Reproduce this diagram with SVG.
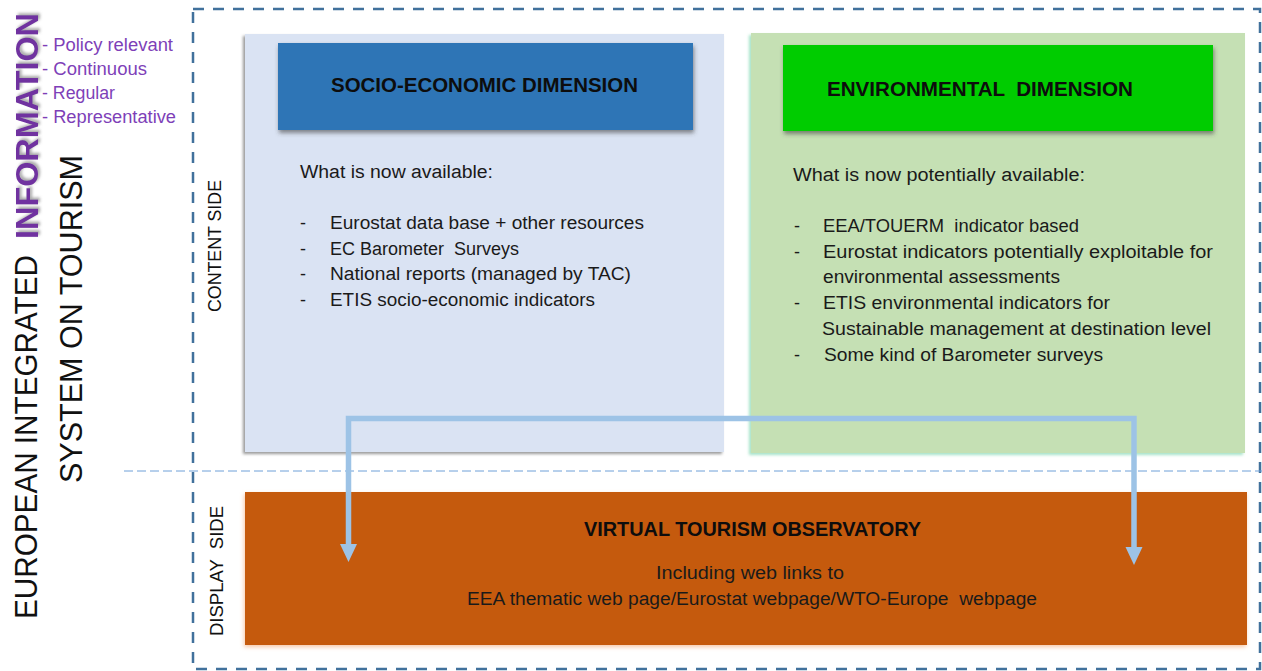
<svg xmlns="http://www.w3.org/2000/svg" width="1262" height="671" viewBox="0 0 1262 671">
  <style>
    text { font-family: "Liberation Sans", Arial, sans-serif; }
    .body { font-size: 18px; fill: #1a1a1a; }
    .head { font-size: 21px; font-weight: bold; fill: #0d0d0d; }
    .side { font-size: 19px; fill: #111; }
    .title { font-size: 32px; fill: #111; }
    .info { font-size: 32px; font-weight: bold; fill: #7030a0; }
    .purple { font-size: 17.5px; fill: #7e3fb8; }
    .pre { white-space: pre; }
  </style>
  <defs>
    <filter id="shPanel" x="-5%" y="-5%" width="110%" height="110%">
      <feDropShadow dx="-2" dy="2" stdDeviation="1.5" flood-color="#7f7f7f" flood-opacity="0.8"/>
    </filter>
    <filter id="shGreen" x="-5%" y="-5%" width="110%" height="110%">
      <feDropShadow dx="-2" dy="2" stdDeviation="1.5" flood-color="#8fdcbc" flood-opacity="0.8"/>
    </filter>
    <filter id="shHead" x="-5%" y="-10%" width="110%" height="125%">
      <feDropShadow dx="1" dy="3" stdDeviation="2" flood-color="#404040" flood-opacity="0.6"/>
    </filter>
    <filter id="shOrange" x="-5%" y="-10%" width="110%" height="125%">
      <feDropShadow dx="-1" dy="2" stdDeviation="2" flood-color="#f4b183" flood-opacity="0.7"/>
    </filter>
    <filter id="shText" x="-10%" y="-20%" width="120%" height="140%">
      <feDropShadow dx="2" dy="2" stdDeviation="1.5" flood-color="#808080" flood-opacity="0.7"/>
    </filter>
    <marker id="arrow" markerUnits="userSpaceOnUse" markerWidth="18" markerHeight="18" refX="2" refY="9" orient="auto-start-reverse" viewBox="0 0 18 18">
      <path d="M0,0.5 L18,9 L0,17.5 Z" fill="#9dc3e6"/>
    </marker>
  </defs>

  <rect width="1262" height="671" fill="#ffffff"/>

  <!-- frame -->
  <g id="frame">
    <rect x="193" y="9" width="1067" height="660" fill="none" stroke="#41719c" stroke-width="2.5" stroke-dasharray="11 9"/>
    <line x1="124" y1="471" x2="1262" y2="471" stroke="#6fa0d8" stroke-width="1" stroke-dasharray="9 4"/>
  </g>

  <!-- title -->
  <g id="title">
    <text class="title" transform="translate(37,619) rotate(-90)" textLength="364" lengthAdjust="spacingAndGlyphs">EUROPEAN INTEGRATED</text>
    <text class="info" filter="url(#shText)" transform="translate(38,239) rotate(-90)" textLength="226" lengthAdjust="spacingAndGlyphs">INFORMATION</text>
    <text class="title" transform="translate(82,483) rotate(-90)" textLength="328" lengthAdjust="spacingAndGlyphs">SYSTEM ON TOURISM</text>
  </g>

  <g id="properties">
    <text class="purple" x="42" y="51" textLength="131" lengthAdjust="spacingAndGlyphs">- Policy relevant</text>
    <text class="purple" x="42" y="75" textLength="105" lengthAdjust="spacingAndGlyphs">- Continuous</text>
    <text class="purple" x="42" y="99" textLength="73" lengthAdjust="spacingAndGlyphs">- Regular</text>
    <text class="purple" x="42" y="123" textLength="134" lengthAdjust="spacingAndGlyphs">- Representative</text>
  </g>

  <g id="side-labels">
    <text class="side" transform="translate(221,312) rotate(-90)" textLength="132" lengthAdjust="spacingAndGlyphs">CONTENT SIDE</text>
    <text class="side pre" transform="translate(223,636) rotate(-90)" textLength="130" lengthAdjust="spacingAndGlyphs">DISPLAY  SIDE</text>
  </g>

  <!-- socio-economic -->
  <g id="socio-economic">
    <rect x="245" y="34" width="479" height="418" fill="#dae3f3" filter="url(#shPanel)"/>
    <rect x="278" y="43" width="415" height="87" fill="#2e75b6" filter="url(#shHead)"/>
    <text class="head" x="331" y="92" textLength="307" lengthAdjust="spacingAndGlyphs">SOCIO-ECONOMIC DIMENSION</text>
    <text class="body" x="300" y="178" textLength="193" lengthAdjust="spacingAndGlyphs">What is now available:</text>
    <text class="body" x="300" y="229">-</text>
    <text class="body" x="330" y="229" textLength="314" lengthAdjust="spacingAndGlyphs">Eurostat data base + other resources</text>
    <text class="body" x="300" y="255">-</text>
    <text class="body pre" x="330" y="255" textLength="189" lengthAdjust="spacingAndGlyphs">EC Barometer  Surveys</text>
    <text class="body" x="300" y="280">-</text>
    <text class="body" x="330" y="280" textLength="301" lengthAdjust="spacingAndGlyphs">National reports (managed by TAC)</text>
    <text class="body" x="300" y="306">-</text>
    <text class="body" x="330" y="306" textLength="265" lengthAdjust="spacingAndGlyphs">ETIS socio-economic indicators</text>
  </g>

  <!-- environmental -->
  <g id="environmental">
    <rect x="751" y="33" width="494" height="420" fill="#c5e0b4" filter="url(#shGreen)"/>
    <rect x="783" y="45" width="430" height="86" fill="#00cc00" filter="url(#shHead)"/>
    <text class="head pre" x="827" y="96" textLength="306" lengthAdjust="spacingAndGlyphs">ENVIRONMENTAL  DIMENSION</text>
    <text class="body" x="793" y="181" textLength="292" lengthAdjust="spacingAndGlyphs">What is now potentially available:</text>
    <text class="body" x="794" y="232">-</text>
    <text class="body pre" x="823" y="232" textLength="256" lengthAdjust="spacingAndGlyphs">EEA/TOUERM  indicator based</text>
    <text class="body" x="794" y="258">-</text>
    <text class="body" x="823" y="258" textLength="390" lengthAdjust="spacingAndGlyphs">Eurostat indicators potentially exploitable for</text>
    <text class="body" x="823" y="283" textLength="237" lengthAdjust="spacingAndGlyphs">environmental assessments</text>
    <text class="body" x="794" y="309">-</text>
    <text class="body" x="823" y="309" textLength="287" lengthAdjust="spacingAndGlyphs">ETIS environmental indicators for</text>
    <text class="body" x="822" y="335" textLength="389" lengthAdjust="spacingAndGlyphs">Sustainable management at destination level</text>
    <text class="body" x="794" y="361">-</text>
    <text class="body" x="824" y="361" textLength="279" lengthAdjust="spacingAndGlyphs">Some kind of Barometer surveys</text>
  </g>

  <!-- observatory -->
  <g id="observatory">
    <rect x="245" y="492" width="1002" height="153" fill="#c55a11" filter="url(#shOrange)"/>
    <text class="head" x="584" y="536" textLength="337" lengthAdjust="spacingAndGlyphs">VIRTUAL TOURISM OBSERVATORY</text>
    <text class="body" x="656" y="579" textLength="188" lengthAdjust="spacingAndGlyphs">Including web links to</text>
    <text class="body pre" x="467" y="605" textLength="570" lengthAdjust="spacingAndGlyphs">EEA thematic web page/Eurostat webpage/WTO-Europe  webpage</text>
  </g>

  <!-- connectors -->
  <g id="connectors">
    <path d="M348.5,546 L348.5,418.5 L1134,418.5 L1134,549" fill="none" stroke="#9dc3e6" stroke-width="5.5" marker-start="url(#arrow)" marker-end="url(#arrow)"/>
  </g>
</svg>
